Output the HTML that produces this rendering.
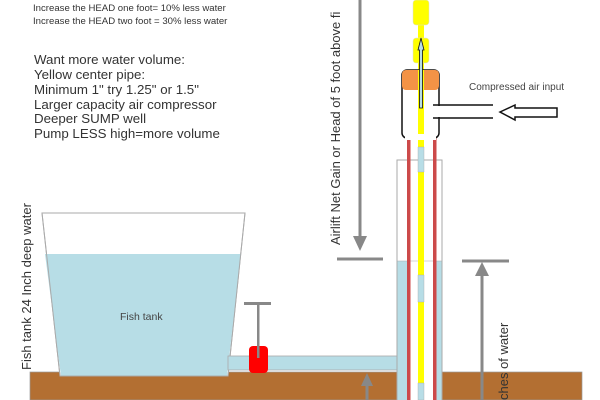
<!DOCTYPE html>
<html><head><meta charset="utf-8"><style>
html,body{margin:0;padding:0;background:#fff;}
svg{display:block;font-family:"Liberation Sans",sans-serif;}
</style></head><body>
<svg width="600" height="400" viewBox="0 0 600 400" xmlns="http://www.w3.org/2000/svg">
<g fill="#333" font-size="9.6">
<text x="33" y="11">Increase the HEAD one foot= 10% less water</text>
<text x="33" y="24">Increase the HEAD two foot = 30% less water</text>
</g>
<g fill="#333" font-size="13.3">
<text x="34" y="64">Want more water volume:</text>
<text x="34" y="79">Yellow center pipe:</text>
<text x="34" y="94">Minimum 1" try 1.25" or 1.5"</text>
<text x="34" y="109">Larger capacity air compressor</text>
<text x="34" y="123">Deeper SUMP well</text>
<text x="34" y="138">Pump LESS high=more volume</text>
</g>
<rect x="30" y="372" width="552" height="28" fill="#b36f32" stroke="#999" stroke-width="0.7"/>
<polygon points="42,213 245,213 228,376 60,376" fill="#fff" stroke="#aaa" stroke-width="1"/>
<polygon points="45,254 241,254 227,376 61,376" fill="#b7dde6"/>
<polygon points="42,213 245,213 228,376 60,376" fill="none" stroke="#aaa" stroke-width="1"/>
<text x="120" y="320" font-size="10.5" fill="#444">Fish tank</text>
<text transform="translate(31,370) rotate(-90)" font-size="13" fill="#333">Fish tank 24 Inch deep water</text>
<rect x="228" y="356" width="170" height="14" fill="#b7dde6" stroke="#aaa" stroke-width="0.8"/>
<rect x="249" y="346" width="19" height="27" rx="4" fill="#f00"/>
<rect x="257" y="303" width="2.5" height="55" fill="#888"/>
<rect x="244" y="302" width="27" height="3" fill="#888"/>
<rect x="397" y="160" width="45" height="245" fill="#fff" stroke="#aaa" stroke-width="1"/>
<rect x="397.5" y="261" width="10" height="140" fill="#b7dde6"/>
<rect x="434" y="261" width="7.5" height="140" fill="#b7dde6"/>
<line x1="397" y1="261" x2="442" y2="261" stroke="#aaa" stroke-width="0.6"/>
<rect x="407" y="136" width="3.5" height="264" fill="#cc4a4a"/>
<rect x="433" y="136" width="3.5" height="264" fill="#cc4a4a"/>
<rect x="418" y="0" width="6" height="400" fill="#ffff00"/>
<rect x="418" y="147" width="6" height="25" fill="#b7dde6" stroke="#aaa" stroke-width="0.4"/>
<rect x="418" y="275" width="6" height="27" fill="#b7dde6" stroke="#aaa" stroke-width="0.4"/>
<rect x="418" y="383" width="6" height="17" fill="#b7dde6" stroke="#aaa" stroke-width="0.4"/>
<rect x="413" y="0" width="16" height="25" rx="3" fill="#ffff00" stroke="#ddd" stroke-width="0.5"/>
<rect x="413" y="38" width="16" height="25" rx="3" fill="#ffff00" stroke="#ddd" stroke-width="0.5"/>
<rect x="402" y="70" width="37" height="68" rx="5" fill="#fff" stroke="#111" stroke-width="1.5"/>
<rect x="402" y="70" width="37" height="20" rx="4" fill="#f39346"/>
<rect x="418" y="70" width="6" height="68" fill="#ffff00"/>
<rect x="405" y="134" width="31" height="6" fill="#fff"/>
<path d="M433 105 H493 M433 118 H493" stroke="#111" stroke-width="1.5"/>
<rect x="431" y="106" width="62" height="11" fill="#fff"/>
<polygon points="500,112 515,105 515,108 557,108 557,117 515,117 515,120" fill="#fff" stroke="#111" stroke-width="1.5"/>
<text x="469" y="90" font-size="10" fill="#444">Compressed air input</text>
<polygon points="419.5,108 419.5,50 418,50 421,38 424,50 422.5,50 422.5,108" fill="#b7dde6" stroke="#111" stroke-width="0.8"/>
<rect x="358.5" y="0" width="3" height="238" fill="#888"/>
<polygon points="353,236 367,236 360,251" fill="#888"/>
<rect x="337" y="257.5" width="46" height="3" fill="#888"/>
<text transform="translate(340,245) rotate(-90)" font-size="13" fill="#333">Airlift Net Gain or Head of 5 foot above fi</text>
<rect x="462" y="259.5" width="47" height="3" fill="#888"/>
<rect x="480.5" y="273" width="3" height="130" fill="#888"/>
<polygon points="475,276 489,276 482,262" fill="#888"/>
<text transform="translate(508,400) rotate(-90)" font-size="13" fill="#333">ches of water</text>
<rect x="365.5" y="384" width="3" height="20" fill="#888"/>
<polygon points="361,386 373,386 367,373" fill="#888"/>
</svg>
</body></html>
